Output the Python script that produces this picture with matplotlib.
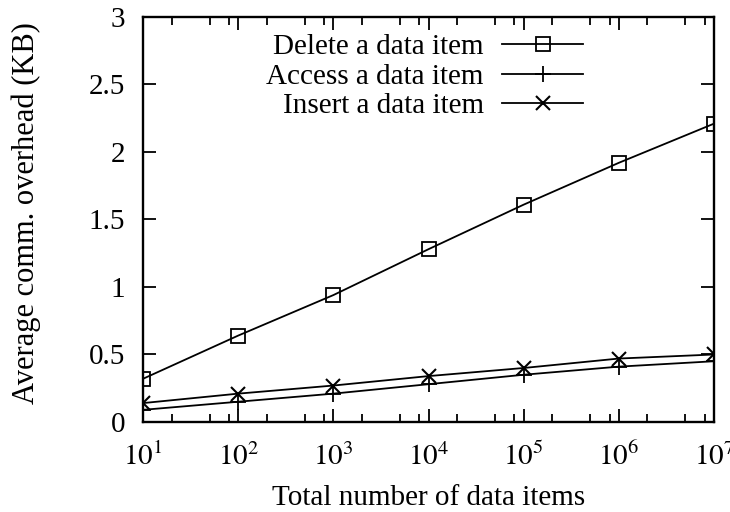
import math

import matplotlib.pyplot as plt
from matplotlib.ticker import FixedLocator, LogLocator, MultipleLocator, NullFormatter

plt.rcParams["font.family"] = ["Liberation Serif", "DejaVu Serif"]
plt.rcParams["mathtext.fontset"] = "stix"

items = [1e1, 1e2, 1e3, 1e4, 1e5, 1e6, 1e7]
delete_kb = [0.32, 0.64, 0.94, 1.28, 1.61, 1.92, 2.21]
access_kb = [0.09, 0.15, 0.21, 0.28, 0.35, 0.41, 0.45]
insert_kb = [0.14, 0.21, 0.27, 0.34, 0.40, 0.47, 0.50]

FS = 21

fig = plt.figure(figsize=(7.3, 5.12), dpi=100)
ax = fig.add_axes([0.1959, 0.1758, 0.7822, 0.791])

ax.plot(items, delete_kb, color="black", lw=1.3, marker="s", ms=10.5,
        mfc="none", mec="black", mew=1.3, label="Delete a data item")
ax.plot(items, access_kb, color="black", lw=1.3, marker="+", ms=12,
        mew=1.3, label="Access a data item")
ax.plot(items, insert_kb, color="black", lw=1.3, marker="x", ms=10,
        mew=1.5, label="Insert a data item")

ax.set_xscale("log")
ax.set_xlim(1e1, 1e7)
ax.set_ylim(0, 3)
ax.yaxis.set_major_locator(MultipleLocator(0.5))
ax.yaxis.set_major_formatter(plt.FuncFormatter(lambda v, p: f"{v:g}"))
ax.xaxis.set_major_locator(FixedLocator(items))
ax.xaxis.set_major_formatter(
    plt.FuncFormatter(lambda v, p: r"$10^{%d}$" % round(math.log10(v))))
ax.xaxis.set_minor_locator(LogLocator(base=10, subs=(2, 5, 8), numticks=20))
ax.xaxis.set_minor_formatter(NullFormatter())

ax.tick_params(which="both", direction="in", top=True, right=True,
               labelsize=FS, width=1.3)
ax.tick_params(axis="y", pad=13)
ax.tick_params(axis="x", pad=15)
ax.tick_params(which="major", length=9.5)
ax.tick_params(which="minor", length=5.8)
for s in ax.spines.values():
    s.set_linewidth(1.7)

ax.set_xlabel("Total number of data items", fontsize=FS, va="center")
ax.set_ylabel("Average comm. overhead (KB)", fontsize=22, va="center")
ax.xaxis.set_label_coords(0.5, -0.187)
ax.yaxis.set_label_coords(-0.2045, 0.517)

leg = ax.legend(loc="upper right", bbox_to_anchor=(0.771, 0.958), frameon=False,
                markerfirst=False, fontsize=FS, handlelength=2.77,
                labelspacing=0.1, handletextpad=0.65, borderaxespad=0,
                borderpad=0)

fig.savefig("out.png", dpi=100)
